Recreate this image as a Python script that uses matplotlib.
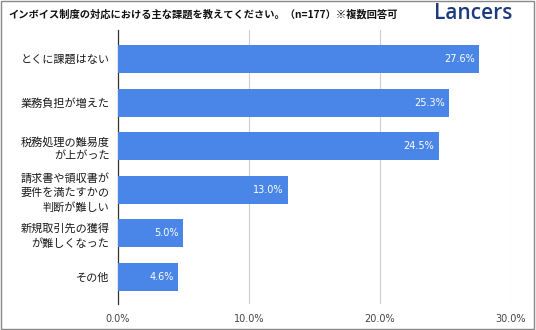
import matplotlib
matplotlib.use("Agg")
import matplotlib.pyplot as plt
from matplotlib.patches import Rectangle
from matplotlib.ticker import MultipleLocator, FuncFormatter

plt.rcParams["font.family"] = ["Noto Sans CJK JP", "DejaVu Sans"]

categories = [
    "とくに課題はない",
    "業務負担が増えた",
    "税務処理の難易度\nが上がった",
    "請求書や領収書が\n要件を満たすかの\n判断が難しい",
    "新規取引先の獲得\nが難しくなった",
    "その他",
]
values = [27.6, 25.3, 24.5, 13.0, 5.0, 4.6]
title = "インボイス制度の対応における主な課題を教えてください。（n=177）※複数回答可"

bar_color = "#4a86e8"

fig = plt.figure(figsize=(5.36, 3.30), dpi=100)
ax = fig.add_axes([0.220, 0.079, 0.733, 0.830])

y = list(range(len(categories)))
ax.barh(y, values, height=0.64, color=bar_color, zorder=3)
for yi, v in zip(y, values):
    ax.text(v - 0.35, yi, f"{v:.1f}%", ha="right", va="center",
            color="white", fontsize=7, zorder=4, family="DejaVu Sans")

ax.set_yticks(y)
ax.set_yticklabels(categories, fontsize=8, color="#1a1a1a", linespacing=1.45)
ax.set_ylim(len(categories) - 0.38, -0.665)
ax.set_xlim(0, 30)
ax.xaxis.set_major_locator(MultipleLocator(10))
ax.xaxis.set_major_formatter(FuncFormatter(lambda x, _: f"{x:.1f}%"))
ax.tick_params(axis="x", labelsize=7, colors="#444444", length=0, pad=7)
for lbl in ax.get_xticklabels():
    lbl.set_family("DejaVu Sans")
ax.tick_params(axis="y", length=0, pad=6)
ax.grid(axis="x", color="#cccccc", linewidth=0.8, zorder=0)
for side in ("top", "right", "bottom"):
    ax.spines[side].set_visible(False)
ax.spines["left"].set_color("#333333")
ax.spines["left"].set_linewidth(0.9)

fig.text(0.015, 0.955, title, fontsize=7.4, fontweight="bold", color="#111111",
         va="center", ha="left")
fig.text(0.810, 0.958, "Lancers", fontsize=15, fontweight="semibold",
         color="#1d3b7e", va="center", ha="left", family="Open Sans")

# thin frame around the whole figure
fig.patches.append(Rectangle((0.002, 0.003), 0.994, 0.994, transform=fig.transFigure,
                             fill=False, edgecolor="#888888", linewidth=1.0))

fig.savefig("out.png", dpi=100)
